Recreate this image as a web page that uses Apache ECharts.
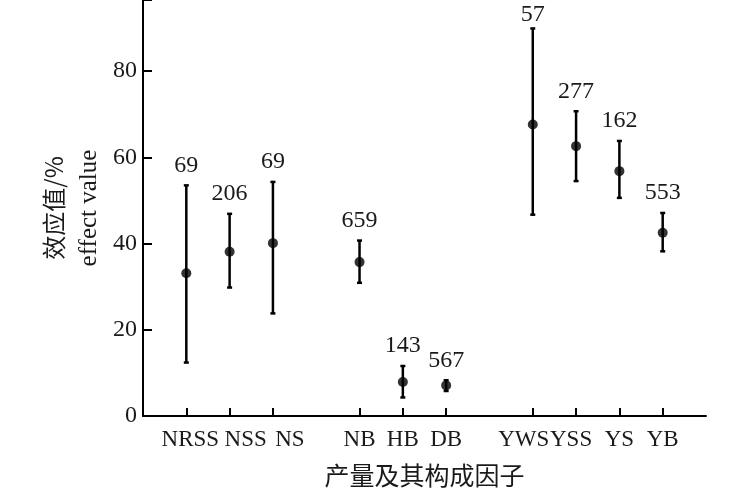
<!DOCTYPE html>
<html lang="zh">
<head>
    <meta charset="UTF-8">
    <title>效应值</title>
    <script src="https://cdn.jsdelivr.net/npm/echarts@6/dist/echarts.min.js"></script>
    <style>
        html, body { margin: 0; padding: 0; background: #fff; }
    </style>
</head>
<body>
    <div id="main" style="width: 750px;height:500px;"></div>
<script>
    // x轴类目（空串为组间空位）
    var xCategories = ['', 'NRSS', 'NSS', 'NS', '', 'NB', 'HB', 'DB', '', 'YWS', 'YSS', 'YS', 'YB', ''];
    // 各因子
    var factors = ['NRSS', 'NSS', 'NS', 'NB', 'HB', 'DB', 'YWS', 'YSS', 'YS', 'YB'];
    var meanValues = [33.1, 38.1, 40.1, 35.7, 7.9, 7.1, 67.6, 62.6, 56.8, 42.5];
    var lowValues = [12.4, 29.8, 23.8, 30.9, 4.3, 5.8, 46.7, 54.5, 50.6, 38.2];
    var highValues = [53.5, 46.9, 54.3, 40.7, 11.6, 8.3, 89.9, 70.7, 63.8, 47.1];
    // 样本数
    var sampleCounts = [69, 206, 69, 659, 143, 567, 57, 277, 162, 553];
    var yTicks = [0, 20, 40, 60, 80];

    var serif = '"Liberation Serif", "Times New Roman", serif';
    var cjk = '"Noto Sans CJK SC", sans-serif';

    // 拥挤的标签稍微错开（像素）
    var labelShift = { NRSS: 4, NSS: 16, NS: 17, YWS: -9, YSS: -5 };
    var richLabels = {};
    Object.keys(labelShift).forEach(function (k) {
        var s = labelShift[k];
        richLabels[k] = {
            fontFamily: serif, fontSize: 23, color: '#1a1a1a',
            padding: s > 0 ? [0, 0, 0, 2 * s] : [0, -2 * s, 0, 0]
        };
    });

    var meanData = [];
    var errData = [];
    for (var i = 0; i < factors.length; i++) {
        var idx = xCategories.indexOf(factors[i]);
        meanData.push([idx, meanValues[i]]);
        errData.push([idx, lowValues[i], highValues[i], sampleCounts[i]]);
    }

    var myChart = echarts.init(document.getElementById('main'));

    var option = {
        animation: false,
        grid: { left: 143, right: 44, top: 0, bottom: 84 },
        xAxis: {
            type: 'category',
            data: xCategories,
            boundaryGap: false,
            name: '产量及其构成因子',
            nameLocation: 'middle',
            nameGap: 47,
            nameTextStyle: { fontFamily: cjk, fontSize: 25, color: '#1a1a1a' },
            axisLine: { lineStyle: { color: '#000', width: 2 } },
            axisTick: {
                inside: true,
                length: 8,
                lineStyle: { color: '#000', width: 2 },
                interval: function (index, value) { return value !== ''; }
            },
            axisLabel: {
                interval: 0,
                margin: 12,
                fontFamily: serif,
                fontSize: 23,
                color: '#1a1a1a',
                formatter: function (v) {
                    return labelShift[v] !== undefined ? '{' + v + '|' + v + '}' : v;
                },
                rich: richLabels
            },
            splitLine: { show: false }
        },
        yAxis: {
            type: 'value',
            min: 0,
            max: 96.5,
            interval: 20,
            name: '{cn|效应值/%}\n{en|effect value}',
            nameLocation: 'middle',
            nameRotate: 90,
            nameGap: 34,
            nameTextStyle: {
                rich: {
                    cn: { fontFamily: cjk, fontSize: 24, color: '#1a1a1a', lineHeight: 36 },
                    en: { fontFamily: serif, fontSize: 25, color: '#1a1a1a', lineHeight: 36 }
                }
            },
            axisLine: { show: true, lineStyle: { color: '#000', width: 2 } },
            axisTick: { show: true, inside: true, length: 9, lineStyle: { color: '#000', width: 2 } },
            axisLabel: {
                margin: 6,
                fontFamily: serif,
                fontSize: 24,
                color: '#1a1a1a',
                formatter: function (v) { return yTicks.indexOf(v) >= 0 ? String(v) : ''; }
            },
            splitLine: { show: false }
        },
        series: [
            {
                name: 'error',
                type: 'custom',
                data: errData,
                renderItem: function (params, api) {
                    var x = api.coord([api.value(0), 0])[0];
                    var lo = api.coord([api.value(0), api.value(1)])[1];
                    var hi = api.coord([api.value(0), api.value(2)])[1];
                    var cap = 2.5;
                    var style = { stroke: '#000', lineWidth: 2.5 };
                    return {
                        type: 'group',
                        children: [
                            { type: 'line', shape: { x1: x, y1: lo, x2: x, y2: hi }, style: style },
                            { type: 'line', shape: { x1: x - cap, y1: hi, x2: x + cap, y2: hi }, style: style },
                            { type: 'line', shape: { x1: x - cap, y1: lo, x2: x + cap, y2: lo }, style: style },
                            {
                                type: 'text',
                                x: x,
                                y: Math.max(hi - 20, 15),
                                style: {
                                    text: String(api.value(3)),
                                    align: 'center',
                                    verticalAlign: 'middle',
                                    fontFamily: serif,
                                    fontSize: 24,
                                    fill: '#1a1a1a'
                                }
                            }
                        ]
                    };
                },
                z: 2
            },
            {
                name: 'mean',
                type: 'scatter',
                data: meanData,
                symbol: 'circle',
                symbolSize: 10,
                itemStyle: { color: '#000' },
                z: 3
            }
        ]
    };

    myChart.setOption(option);
</script>
</body>
</html>
